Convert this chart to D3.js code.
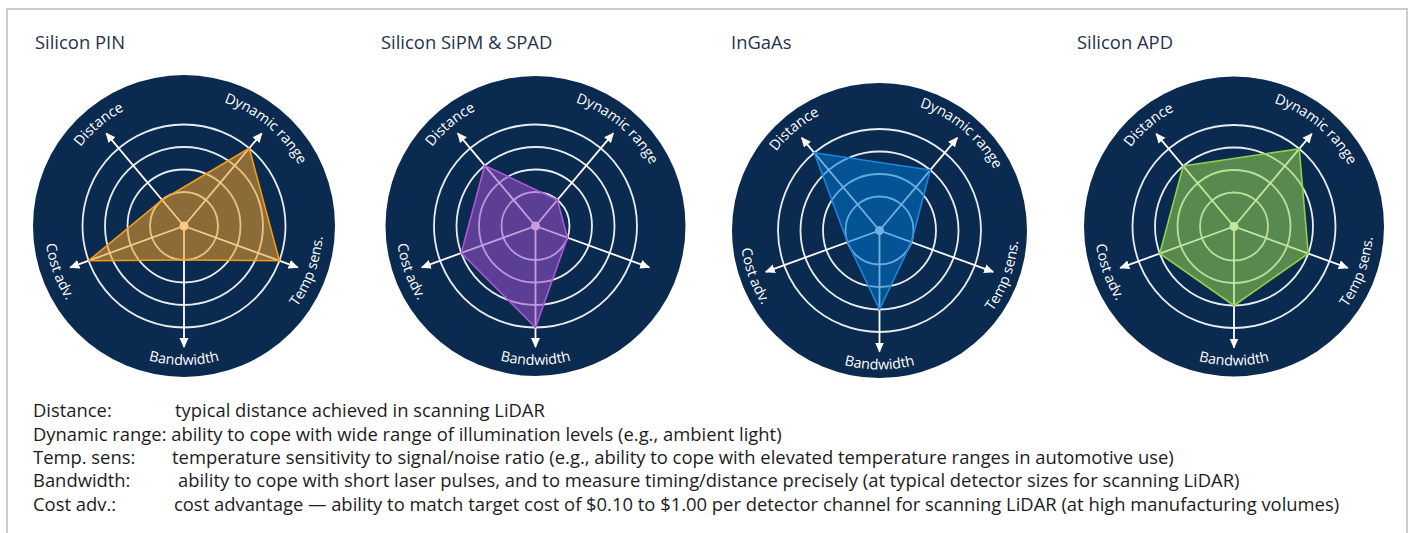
<!DOCTYPE html>
<html><head><meta charset="utf-8">
<script src="https://cdn.jsdelivr.net/npm/d3@7"></script>
<style>body{margin:0;background:#fff;} svg{display:block;}</style>
</head><body>
<svg id="chart" width="1411" height="533"></svg>
<script>
// ---------- DATA ----------
const axes = ["Distance", "Dynamic range", "Temp sens.", "Bandwidth", "Cost adv."];
const detectors = ["Silicon PIN", "Silicon SiPM & SPAD", "InGaAs", "Silicon APD"];
const siliconPinValues = [1, 4, 4, 1, 4];
const siliconSipmValues = [3, 1, 1, 4, 3];
const ingaasValues = [4, 3, 1, 3, 1];
const siliconApdValues = [3, 4, 3, 3, 3];
const ringLevels = [1, 2, 3, 4];
const legendTerms = ["Distance:", "Dynamic range:", "Temp. sens:", "Bandwidth:", "Cost adv.:"];
const legendTexts = [
  "typical distance achieved in scanning LiDAR",
  "ability to cope with wide range of illumination levels (e.g., ambient light)",
  "temperature sensitivity to signal/noise ratio (e.g., ability to cope with elevated temperature ranges in automotive use)",
  "ability to cope with short laser pulses, and to measure timing/distance precisely (at typical detector sizes for scanning LiDAR)",
  "cost advantage \u2014 ability to match target cost of $0.10 to $1.00 per detector channel for scanning LiDAR (at high manufacturing volumes)"
];
// axis labels printed on each panel (the SiPM panel has no "Temp sens." label)
const panelLabels = [
  ["Distance", "Dynamic range", "Temp sens.", "Bandwidth", "Cost adv."],
  ["Distance", "Dynamic range", "Bandwidth", "Cost adv."],
  ["Distance", "Dynamic range", "Temp sens.", "Bandwidth", "Cost adv."],
  ["Distance", "Dynamic range", "Temp sens.", "Bandwidth", "Cost adv."]
];

// ---------- LAYOUT / STYLE ----------
const seriesValues = [siliconPinValues, siliconSipmValues, ingaasValues, siliconApdValues];
const panels = [
  {cx: 184, cy: 226, R: 151, tx: 35},
  {cx: 535.5, cy: 226, R: 150, tx: 381},
  {cx: 879.5, cy: 230.5, R: 147.5, tx: 731},
  {cx: 1234, cy: 226.5, R: 150, tx: 1077}
];
const colors = [
  {fill: "#f0a028", stroke: "#f29c1c"},
  {fill: "#9c50cc", stroke: "#ab58d6"},
  {fill: "#0074cc", stroke: "#1a86de"},
  {fill: "#96d650", stroke: "#8fd24a"}
];
const axisAnglesDeg = [-40, 40, 110, 180, 250];
const navy = "#0b2a4f";
const font = "'Open Sans', 'Noto Sans', sans-serif";
const legendDescX = [175, null, 172, 178, 174];
const legendY = [417, 441, 464, 487, 511];

const svg = d3.select("#chart");

// frame
svg.append("rect").attr("x", 7).attr("y", 9).attr("width", 1400).attr("height", 540)
  .attr("fill", "none").attr("stroke", "#cccccc").attr("stroke-width", 2);

const r = d3.scaleLinear().domain([0, 4]).range([11.5, 101.5]);
const arrowR = 121;
const toRad = d => d * Math.PI / 180;

const defs = svg.append("defs");
defs.append("marker").attr("id", "arrow")
  .attr("viewBox", "0 0 10 10").attr("refX", 9).attr("refY", 5)
  .attr("markerUnits", "userSpaceOnUse").attr("markerWidth", 10).attr("markerHeight", 10)
  .attr("orient", "auto")
  .append("path").attr("d", "M0,0.5 L10,5 L0,9.5 Z").attr("fill", "#ffffff");

panels.forEach((p, k) => {
  // title
  svg.append("text").attr("x", p.tx).attr("y", 49)
    .attr("font-family", font).attr("font-size", 18.4).attr("fill", "#26334d")
    .text(detectors[k]);

  const g = svg.append("g").attr("transform", `translate(${p.cx},${p.cy})`);
  g.append("circle").attr("r", p.R).attr("fill", navy);

  // rings
  g.selectAll("circle.ring").data(ringLevels).join("circle").attr("class", "ring")
    .attr("r", d => r(d)).attr("fill", "none").attr("stroke", "#e9edf2").attr("stroke-width", 1.8);

  // axes
  g.selectAll("line.axis").data(axes).join("line").attr("class", "axis")
    .attr("x1", 0).attr("y1", 0)
    .attr("x2", (d, i) => arrowR * Math.sin(toRad(axisAnglesDeg[i])))
    .attr("y2", (d, i) => -arrowR * Math.cos(toRad(axisAnglesDeg[i])))
    .attr("stroke", "#ffffff").attr("stroke-width", 1.8)
    .attr("marker-end", "url(#arrow)");

  g.append("circle").attr("r", 4.5).attr("fill", "#ffffff");

  // polygon
  const vals = seriesValues[k];
  const line = d3.lineRadial()
    .angle((d, i) => toRad(axisAnglesDeg[i]))
    .radius(d => r(d))
    .curve(d3.curveLinearClosed);
  g.append("path").attr("d", line(vals))
    .attr("fill", colors[k].fill).attr("fill-opacity", 0.56)
    .attr("stroke", colors[k].stroke).attr("stroke-width", 1.6).attr("stroke-linejoin", "round");

  // curved labels
  axes.forEach((name, i) => {
    if (!panelLabels[k].includes(name)) return;
    const th = axisAnglesDeg[i];
    const top = Math.cos(toRad(th)) > 0;
    const R = top ? 130 : 139;
    const a0 = toRad((top ? th - 70 : th + 70) - 90);
    const a1 = toRad((top ? th + 70 : th - 70) - 90);
    const path = d3.path();
    path.moveTo(R * Math.cos(a0), R * Math.sin(a0));
    path.arc(0, 0, R, a0, a1, !top);
    const id = `lab-${k}-${i}`;
    g.append("path").attr("id", id).attr("d", path.toString()).attr("fill", "none");
    g.append("text").attr("font-family", font).attr("font-size", 14.3).attr("fill", "#ffffff")
      .append("textPath").attr("href", `#${id}`).attr("startOffset", "50%")
      .attr("text-anchor", "middle").text(name);
  });
});

// legend
const lg = svg.append("g").attr("font-family", font).attr("font-size", 18.4).attr("fill", "#1c1c1c");
legendTerms.forEach((term, i) => {
  const t = lg.append("text").attr("y", legendY[i]);
  t.append("tspan").attr("x", 33).text(term);
  const d = t.append("tspan").text((legendDescX[i] === null ? " " : "") + legendTexts[i]);
  if (legendDescX[i] !== null) d.attr("x", legendDescX[i]);
});
</script>
</body></html>
